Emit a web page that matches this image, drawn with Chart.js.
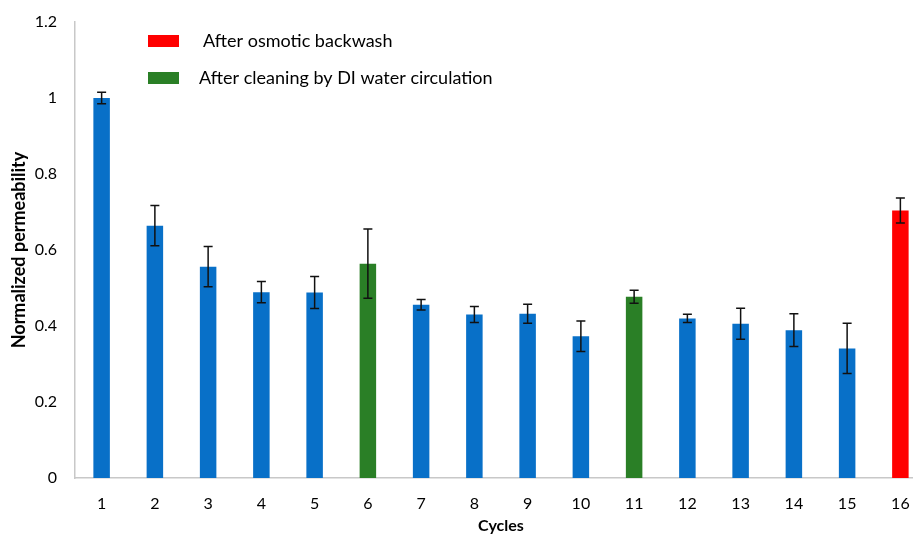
<!DOCTYPE html>
<html>
<head>
<meta charset="utf-8">
<script src="https://cdn.jsdelivr.net/npm/chart.js@4/dist/chart.umd.min.js"></script>
<style>
  html, body { margin: 0; padding: 0; background: #fff; overflow: hidden; }
  #wrap { width: 930px; height: 539px; }
</style>
</head>
<body>
<div id="wrap"><canvas id="myChart" width="930" height="539"></canvas></div>
<script>
var cycles = ["1", "2", "3", "4", "5", "6", "7", "8", "9", "10", "11", "12", "13", "14", "15", "16"];
var permeability = [1.0, 0.664, 0.556, 0.489, 0.488, 0.564, 0.456, 0.430, 0.432, 0.373, 0.477, 0.420, 0.406, 0.389, 0.341, 0.704];
var errors = [0.015, 0.053, 0.053, 0.028, 0.042, 0.091, 0.014, 0.021, 0.025, 0.040, 0.017, 0.011, 0.041, 0.043, 0.066, 0.033];
// 0 = normal cycle, 1 = after DI water cleaning, 2 = after osmotic backwash
var treatment = [0, 0, 0, 0, 0, 1, 0, 0, 0, 0, 1, 0, 0, 0, 0, 2];
var treatColors = ["#0870c8", "#2a7f26", "#ff0000"];
var legendLabels = ["After osmotic backwash", "After cleaning by DI water circulation"];
var legendColors = ["#ff0000", "#2a7f26"];
var yTicks = [0, 0.2, 0.4, 0.6, 0.8, 1, 1.2];

var barColors = treatment.map(function (t) { return treatColors[t]; });

var errorBars = {
    id: "errorBars",
    afterDatasetsDraw: function (chart) {
        var ctx = chart.ctx;
        var meta = chart.getDatasetMeta(0);
        var y = chart.scales.y;
        ctx.save();
        ctx.strokeStyle = "#111";
        ctx.lineWidth = 1.5;
        meta.data.forEach(function (bar, i) {
            var top = y.getPixelForValue(permeability[i] + errors[i]);
            var bot = y.getPixelForValue(permeability[i] - errors[i]);
            ctx.beginPath();
            ctx.moveTo(bar.x, top); ctx.lineTo(bar.x, bot);
            ctx.moveTo(bar.x - 4.5, top); ctx.lineTo(bar.x + 4.5, top);
            ctx.moveTo(bar.x - 4.5, bot); ctx.lineTo(bar.x + 4.5, bot);
            ctx.stroke();
        });
        ctx.restore();
    }
};

var boxLegend = {
    id: "boxLegend",
    afterDraw: function (chart) {
        var ctx = chart.ctx;
        ctx.save();
        ctx.font = "18px Lato";
        ctx.textBaseline = "middle";
        legendLabels.forEach(function (txt, i) {
            var yy = 41 + i * 37;
            ctx.fillStyle = legendColors[i];
            ctx.fillRect(148, yy - 6, 31, 12);
            ctx.fillStyle = "#000";
            ctx.fillText(txt, i === 0 ? 203 : 199, yy);
        });
        ctx.restore();
    }
};

new Chart("myChart", {
    type: "bar",
    data: {
        labels: cycles,
        datasets: [{
            data: permeability,
            backgroundColor: barColors,
            borderWidth: 0,
            barPercentage: 0.62,
            categoryPercentage: 0.5
        }]
    },
    options: {
        responsive: false,
        animation: false,
        layout: { padding: { top: 22, right: 3, left: 0, bottom: 0 } },
        plugins: {
            legend: { display: false },
            tooltip: { enabled: false }
        },
        scales: {
            x: {
                grid: { display: false, drawTicks: false },
                border: { color: "#c8c8c8", width: 1.5 },
                ticks: { color: "#000", font: { family: "Lato", size: 16 }, padding: 16 },
                title: { display: true, text: "Cycles", color: "#000", font: { family: "Lato", size: 16, weight: "bold" }, padding: { top: 6 } },
                afterFit: function (s) { s.height = 61; }
            },
            y: {
                min: 0,
                max: 1.2,
                afterBuildTicks: function (s) { s.ticks = yTicks.map(function (v) { return { value: v }; }); },
                grid: { display: false, drawTicks: false },
                border: { color: "#c8c8c8", width: 1.5 },
                ticks: {
                    color: "#000", font: { family: "Lato", size: 16 }, padding: 18,
                    callback: function (v) { return String(Math.round(v * 10) / 10); }
                },
                title: { display: true, text: "Normalized permeability", color: "#000", font: { family: "Lato", size: 18, weight: "bold" }, padding: { top: 8 } },
                afterFit: function (s) { s.width = 75; s.paddingTop = 0; s.paddingBottom = 0; }
            }
        }
    },
    plugins: [errorBars, boxLegend]
});
</script>
</body>
</html>
